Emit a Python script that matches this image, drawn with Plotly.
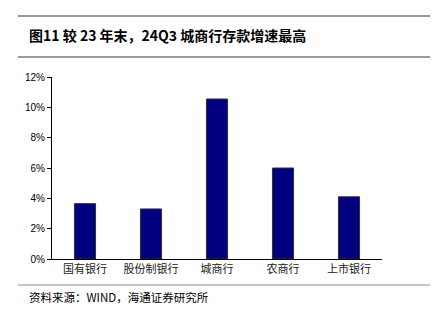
import plotly.graph_objects as go

categories = ["国有银行", "股份制银行", "城商行", "农商行", "上市银行"]
values = [3.65, 3.3, 10.55, 6.0, 4.1]
tick_vals = [0, 2, 4, 6, 8, 10, 12]
tick_text = ["0%", "2%", "4%", "6%", "8%", "10%", "12%"]

W, H = 438, 317
L, R, T, B = 52, 382, 77, 259

def px(x):
    return (x - L) / (R - L)

def py(y):
    return (B - y) / (B - T)

fig = go.Figure(go.Bar(
    x=categories, y=values, width=0.32,
    marker=dict(color="#000080", line=dict(color="#333333", width=1)),
))

cjk = "Noto Sans CJK SC"
fig.update_layout(
    width=W, height=H,
    margin=dict(l=L, r=W - R, t=T, b=H - B),
    paper_bgcolor="white", plot_bgcolor="white",
    showlegend=False,
    font=dict(family="Liberation Sans, Arial", color="black"),
    xaxis=dict(showline=True, linecolor="black", linewidth=1, ticks="",
               tickfont=dict(family=cjk, size=11, color="#222"),
               showgrid=False, range=[-0.5, 4.5]),
    yaxis=dict(range=[0, 12], tickvals=tick_vals, ticktext=tick_text,
               showline=True, linecolor="black", linewidth=1,
               ticks="outside", ticklen=4, tickcolor="black",
               showgrid=False, zeroline=False,
               tickfont=dict(family="Liberation Sans, Arial", size=10)),
    shapes=[
        dict(type="line", xref="paper", yref="paper", x0=px(18), x1=px(430),
             y0=py(16), y1=py(16), line=dict(color="#333", width=1)),
        dict(type="line", xref="paper", yref="paper", x0=px(18), x1=px(430),
             y0=py(57), y1=py(57), line=dict(color="#333", width=1)),
        dict(type="line", xref="paper", yref="paper", x0=px(18), x1=px(430),
             y0=py(285), y1=py(285), line=dict(color="#888", width=1)),
    ],
    annotations=[
        dict(text="<b>图11 较 23 年末，24Q3 城商行存款增速最高</b>",
             xref="paper", yref="paper", x=px(27), y=py(35.5),
             xanchor="left", yanchor="middle", showarrow=False,
             font=dict(family=cjk, size=14, color="black")),
        dict(text="资料来源：WIND，海通证券研究所",
             xref="paper", yref="paper", x=px(27), y=py(297),
             xanchor="left", yanchor="middle", showarrow=False,
             font=dict(family=cjk, size=11.5, color="black")),
    ],
)

fig.write_html("out.html")
